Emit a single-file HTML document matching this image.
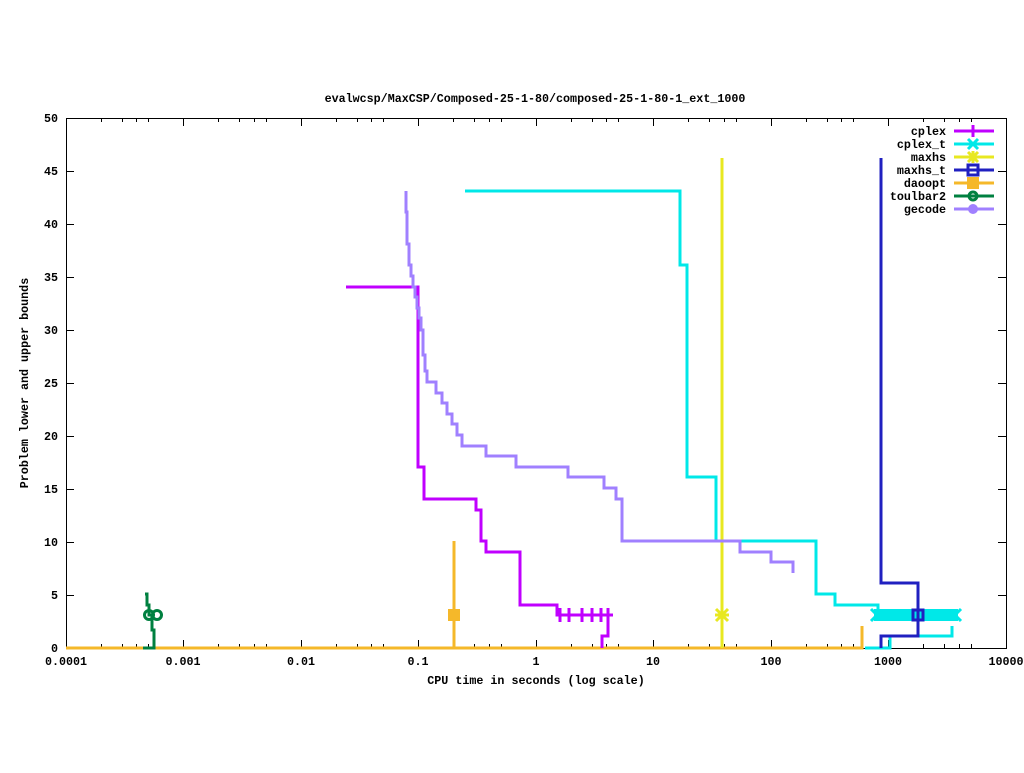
<!DOCTYPE html>
<html><head><style>
body{margin:0;background:#fff}
svg text{font-family:"Liberation Mono",monospace;font-size:11.7px;font-weight:bold}
</style></head><body>
<svg width="1024" height="768" xmlns="http://www.w3.org/2000/svg">
<rect width="1024" height="768" fill="#fff"/>
<text x="535" y="102" text-anchor="middle">evalwcsp/MaxCSP/Composed-25-1-80/composed-25-1-80-1_ext_1000</text>
<g stroke="#000" stroke-width="1" fill="none">
<rect x="66.5" y="118.5" width="940" height="530"/>
<path d="M66 648.5h8M66 595.5h8M66 542.5h8M66 489.5h8M66 436.5h8M66 383.5h8M66 330.5h8M66 277.5h8M66 224.5h8M66 171.5h8M66 118.5h8
M1006 595.5h-8M1006 542.5h-8M1006 489.5h-8M1006 436.5h-8M1006 383.5h-8M1006 330.5h-8M1006 277.5h-8M1006 224.5h-8M1006 171.5h-8"/>
<path d="M66.5 648v-8M183.5 648v-8M301.5 648v-8M418.5 648v-8M536.5 648v-8M653.5 648v-8M771.5 648v-8M888.5 648v-8M1006.5 648v-8
M66.5 118v8M183.5 118v8M301.5 118v8M418.5 118v8M536.5 118v8M653.5 118v8M771.5 118v8M888.5 118v8"/>
<path d="M101.5 648v-4M122.5 648v-4M136.5 648v-4M148.5 648v-4M218.5 648v-4M239.5 648v-4M254.5 648v-4M266.5 648v-4M336.5 648v-4M357.5 648v-4M371.5 648v-4M383.5 648v-4M453.5 648v-4M474.5 648v-4M489.5 648v-4M501.5 648v-4M571.5 648v-4M592.5 648v-4M606.5 648v-4M618.5 648v-4M688.5 648v-4M709.5 648v-4M724.5 648v-4M736.5 648v-4M806.5 648v-4M827.5 648v-4M841.5 648v-4M853.5 648v-4M923.5 648v-4M944.5 648v-4M959.5 648v-4M971.5 648v-4
M101.5 118v4M122.5 118v4M136.5 118v4M148.5 118v4M218.5 118v4M239.5 118v4M254.5 118v4M266.5 118v4M336.5 118v4M357.5 118v4M371.5 118v4M383.5 118v4M453.5 118v4M474.5 118v4M489.5 118v4M501.5 118v4M571.5 118v4M592.5 118v4M606.5 118v4M618.5 118v4M688.5 118v4M709.5 118v4M724.5 118v4M736.5 118v4M806.5 118v4M827.5 118v4M841.5 118v4M853.5 118v4M923.5 118v4M944.5 118v4M959.5 118v4M971.5 118v4"/>
</g>
<g text-anchor="end">
<text x="58" y="652">0</text><text x="58" y="599">5</text><text x="58" y="546">10</text><text x="58" y="493">15</text><text x="58" y="440">20</text><text x="58" y="387">25</text><text x="58" y="334">30</text><text x="58" y="281">35</text><text x="58" y="228">40</text><text x="58" y="175">45</text><text x="58" y="122">50</text>
</g>
<g text-anchor="middle">
<text x="66" y="665">0.0001</text><text x="183" y="665">0.001</text><text x="301" y="665">0.01</text><text x="418" y="665">0.1</text><text x="536" y="665">1</text><text x="653" y="665">10</text><text x="771" y="665">100</text><text x="888" y="665">1000</text><text x="1006" y="665">10000</text>
<text x="536" y="684">CPU time in seconds (log scale)</text>
</g>
<text transform="translate(28,383) rotate(-90)" text-anchor="middle">Problem lower and upper bounds</text>
<g fill="none" stroke-width="3">
<path d="M66 648H862V626" stroke="#f5b82a" stroke-width="3"/>
<path d="M454 541V648" stroke="#f5b82a" stroke-width="3"/>
<rect x="448" y="609" width="12" height="12" fill="#f5b82a" stroke="none"/>
<path d="M722 158V648" stroke="#e8e820" stroke-width="3"/>
<path d="M716 609l12 12M728 609l-12 12M722 608v14M715 615h14" stroke="#e8e820" stroke-width="3"/>
<path d="M465 191H680V265H687V477H716V541H816V594H835V605H878V615" stroke="#00e8e8" stroke-width="3"/>
<path d="M865 648H890V636H952V626" stroke="#00e8e8" stroke-width="3"/>
<rect x="874" y="609" width="84" height="12" fill="#00e8e8" stroke="none"/>
<path d="M871 609l6 6l-6 6M961 609l-6 6l6 6" stroke="#00e8e8" stroke-width="3"/>
<path d="M881 158V583H918V636H881V648" stroke="#2020c0" stroke-width="3"/>
<rect x="913" y="610" width="10" height="10" stroke="#2020c0" stroke-width="3"/>
<path d="M346 287H418V467H424V499H476V510H481V541H486V552H520V605H557V615H613M602 648V636H608V615" stroke="#c000ff" stroke-width="3"/>
<path d="M560 608v14M569 608v14M582 608v14M592 608v14M601 608v14M608 608v14" stroke="#c000ff" stroke-width="3"/>
<path d="M406 191V212H407V244H409V265H411V276H413V287H415V297H417V308H419V318H421V330H423V355H425V371H427V382H436V393H442V403H447V414H452V424H457V435H462V446H486V456H516V467H568V477H604V488H616V499H622V541H740V552H771V562H793V573" stroke="#a080ff" stroke-width="3"/>
<path d="M145 594H147V605H149V615H152V630H154V648H143" stroke="#008040" stroke-width="3"/>
<circle cx="149" cy="615" r="4.5" stroke="#008040" stroke-width="3"/>
<circle cx="157" cy="615" r="4.5" stroke="#008040" stroke-width="3"/>
</g>
<g text-anchor="end">
<text x="946" y="135">cplex</text><text x="946" y="148">cplex_t</text><text x="946" y="161">maxhs</text><text x="946" y="174">maxhs_t</text><text x="946" y="187">daoopt</text><text x="946" y="200">toulbar2</text><text x="946" y="213">gecode</text>
</g>
<g stroke-width="3" fill="none">
<path d="M954 131H994M973 125v12" stroke="#c000ff"/>
<path d="M954 144H994M968 139l10 10M978 139l-10 10" stroke="#00e8e8"/>
<path d="M954 157H994M968 152l10 10M978 152l-10 10M973 151v12" stroke="#e8e820"/>
<path d="M954 170H994" stroke="#2020c0"/><rect x="968" y="165" width="10" height="10" stroke="#2020c0"/>
<path d="M954 183H994" stroke="#f5b82a"/><rect x="967" y="177" width="12" height="12" fill="#f5b82a" stroke="none"/>
<path d="M954 196H994" stroke="#008040"/><circle cx="973" cy="196" r="4" stroke="#008040"/>
<path d="M954 209H994" stroke="#a080ff"/><circle cx="973" cy="209" r="5" fill="#a080ff" stroke="none"/>
</g>
</svg>
</body></html>
